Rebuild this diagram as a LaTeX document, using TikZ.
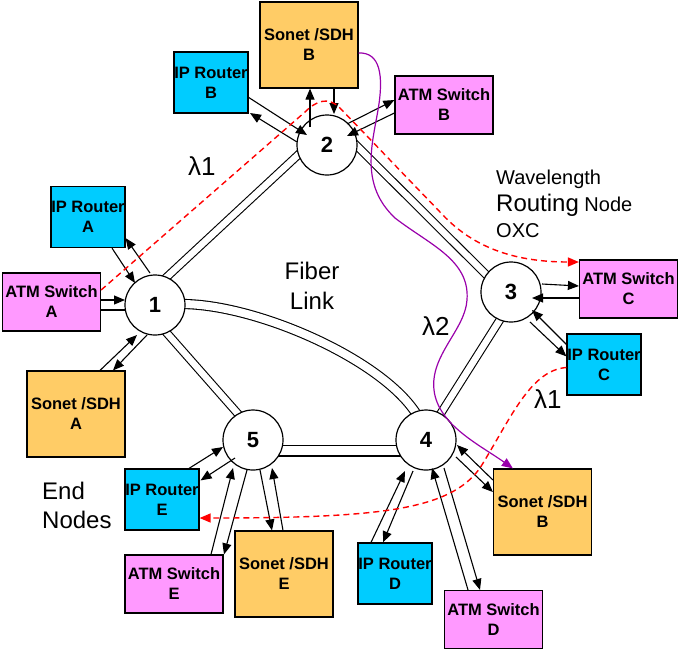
\documentclass[tikz,border=0pt]{standalone}
\usepackage{fontspec}
\setmainfont{Liberation Sans}
\usetikzlibrary{calc,arrows.meta,backgrounds}
\definecolor{pinkbox}{RGB}{255,153,255}
\definecolor{cyanbox}{RGB}{0,204,255}
\definecolor{orangebox}{RGB}{255,204,102}
\definecolor{purp}{RGB}{153,0,170}
\begin{document}
\begin{tikzpicture}[x=1pt,y=-1pt,
 fiber/.style={draw=black, double=white, line width=1.1pt, double distance=6.5pt, shorten <=-6pt, shorten >=-6pt},
 hub/.style={circle, draw, fill=white, line width=1.2pt, minimum size=60pt, inner sep=0pt, font=\fontsize{22}{22}\selectfont\bfseries},
 box/.style={draw, line width=1.2pt, inner sep=0pt, align=center, font=\fontsize{16.5}{20}\selectfont\bfseries},
 iprouter/.style={box, fill=cyanbox, minimum width=74pt, minimum height=61pt},
 atm/.style={box, fill=pinkbox, minimum width=98pt, minimum height=58pt},
 sonet/.style={box, fill=orangebox, minimum width=98pt, minimum height=86pt},
 arr/.style={-{Triangle[length=11pt,width=9pt]}, line width=1.1pt},
 plain/.style={line width=1.1pt},
 lambdapath/.style={red, line width=1.4pt, dash pattern=on 6pt off 4pt, -{Triangle[length=11pt,width=9pt]}},
 purplepath/.style={purp, line width=1.2pt, -{Triangle[length=11pt,width=9pt]}},
 lbl/.style={font=\fontsize{24}{24}\selectfont, anchor=base west, inner sep=0pt},
 lamlbl/.style={lbl, font=\fontsize{26}{26}\selectfont},
 smalllbl/.style={lbl, font=\fontsize{20}{20}\selectfont}
]
\useasboundingbox (0,0) rectangle (700,649);

% hubs
\node[hub] (n1) at (155,305) {1};
\node[hub] (n2) at (327,145) {2};
\node[hub] (n3) at (511,292) {3};
\node[hub] (n4) at (426,440) {4};
\node[hub] (n5) at (253,440) {5};

% fiber links
\begin{pgfonlayer}{background}
\draw[fiber] (n1.67) -- (n2.199);
\draw[fiber] (n2.-3) -- (n3.145);
\draw[fiber] (n3.248) -- (n4.61);
\draw[fiber, double distance=9pt] (n5.-21) -- (n4.201);
\draw[fiber] (n1.-67) -- (n5.120);
\draw[fiber, double distance=8pt] (n1.2) .. controls (255,303) and (385,360) .. (n4.111);
\end{pgfonlayer}

% end nodes
\node[sonet] (sonB) at (309,45) {Sonet /SDH\\B};
\node[iprouter] (ipB) at (211,82.5) {IP Router\\B};
\node[atm] (atmB) at (444,105) {ATM Switch\\B};
\node[iprouter] (ipA) at (88,217) {IP Router\\A};
\node[atm] (atmA) at (51.5,302) {ATM Switch\\A};
\node[sonet] (sonA) at (76,414) {Sonet /SDH\\A};
\node[atm] (atmC) at (628.5,289) {ATM Switch\\C};
\node[iprouter] (ipC) at (604,364.5) {IP Router\\C};
\node[sonet] (sonB2) at (542.5,512) {Sonet /SDH\\B};
\node[iprouter] (ipE) at (162,499.5) {IP Router\\E};
\node[atm] (atmE) at (174,584) {ATM Switch\\E};
\node[sonet] (sonE) at (284,574) {Sonet /SDH\\E};
\node[iprouter] (ipD) at (395,573.5) {IP Router\\D};
\node[atm] (atmD) at (493.5,619.5) {ATM Switch\\D};

% access arrows, node 2
\draw[arr] ($(ipB)+(37,14.5)$) -- ($(n2)+(-20,-10)$);
\draw[arr] ($(n2)+(-30,-3)$) -- ($(ipB)+(39,30.5)$);
\draw[arr] ($(n2)+(-17,-18)$) -- ($(sonB.south)+(1,0)$);
\draw[arr] ($(sonB.south)+(25,0)$) -- ($(n2)+(7,-31)$);
\draw[arr] ($(n2)+(20,-21)$) -- ($(atmB.west)+(0,-5)$);
\draw[arr] ($(atmB.west)+(0,8)$) -- ($(n2)+(20,-9)$);
% node 1
\draw[arr] ($(ipA.south)+(24,0)$) -- ($(n1)+(-20,-22)$);
\draw[arr] ($(n1)+(-5,-32)$) -- ($(ipA.south east)+(0,-10)$);
\draw[arr] ($(atmA.east)+(0,-2)$) -- ($(n1)+(-30,-5)$);
\draw[plain] ($(atmA.east)+(0,8)$) -- ($(n1)+(-30,5)$);
\draw[arr] ($(sonA.north)+(24,0)$) -- ($(n1)+(-18,30)$);
\draw[arr] ($(n1)+(-8,30)$) -- ($(sonA.north)+(37,0)$);
% node 3
\draw[arr] ($(n3)+(31,-8)$) -- ($(atmC.west)+(0,-3)$);
\draw[arr] ($(atmC.west)+(0,9)$) -- ($(n3)+(21,6)$);
\draw[arr] ($(ipC.north west)+(0,11)$) -- ($(n3)+(21,18)$);
\draw[arr] ($(n3)+(19,30)$) -- ($(ipC.north west)+(0,23)$);
% node 4
\draw[arr] ($(ipD.north)+(-24,0)$) -- ($(n4)+(-21,31)$);
\draw[arr] ($(n4)+(-13,31)$) -- ($(ipD.north)+(-12,0)$);
\draw[arr] ($(atmD.north)+(-25.5,0)$) -- ($(n4)+(6,28)$);
\draw[arr] ($(n4)+(18,28)$) -- ($(atmD.north)+(-13.5,0)$);
\draw[arr] ($(sonB2.west)+(0,-32)$) -- ($(n4)+(31,5)$);
\draw[arr] ($(n4)+(30,17)$) -- ($(sonB2.west)+(0,-20)$);
% node 5
\draw[arr] ($(ipE.north)+(27,0)$) -- ($(n5)+(-30,7)$);
\draw[arr] ($(n5)+(-18,18)$) -- ($(ipE.north east)+(1,12)$);
\draw[arr] ($(atmE.north)+(37,0)$) -- ($(n5)+(-20,28)$);
\draw[arr] ($(n5)+(-6,30)$) -- ($(atmE.north)+(50,0)$);
\draw[arr] ($(n5)+(7,30)$) -- ($(sonE.north)+(-12,0)$);
\draw[arr] ($(sonE.north)+(-1,0)$) -- ($(n5)+(19,28)$);

% lightpaths
\draw[lambdapath] ($(atmA.east)+(0,-12)$) -- (305,112) .. controls (316,101) and (328,96) .. (340,108) -- (440,212) .. controls (470,245) and (510,262) .. ($(atmC.west)+(0,-27)$);
\draw[lambdapath] ($(ipC.west)+(0,3)$) .. controls (530,370) and (510,420) .. (480,468) .. controls (450,510) and (380,518) .. ($(ipE.east)+(0,18.5)$);
\draw[purplepath] ($(sonB.east)+(0,8)$) .. controls (380,52) and (384,75) .. (378,110) .. controls (372,145) and (360,185) .. (395,218) .. controls (430,245) and (470,260) .. (467,300) .. controls (465,330) and (430,355) .. (434,390) .. controls (438,425) and (480,445) .. ($(sonB2.north west)+(20,0)$);

% labels
\node[lamlbl] (lamA) at (188,175) {λ1};
\node[lamlbl] (lamB) at (422,335) {λ2};
\node[lamlbl] (lamC) at (534,408) {λ1};
\node[lbl, anchor=base] (fib) at (312,279) {Fiber};
\node[lbl, anchor=base] (lnk) at (312,309) {Link};
\node[smalllbl] (wl) at (496,184) {Wavelength};
\node[smalllbl] (rn) at (496,211) {{\fontsize{24}{24}\selectfont Routing} Node};
\node[smalllbl] (oxc) at (496,237) {OXC};
\node[lbl] (endA) at (42,499) {End};
\node[lbl] (endB) at (42,528) {Nodes};
\end{tikzpicture}
\end{document}
